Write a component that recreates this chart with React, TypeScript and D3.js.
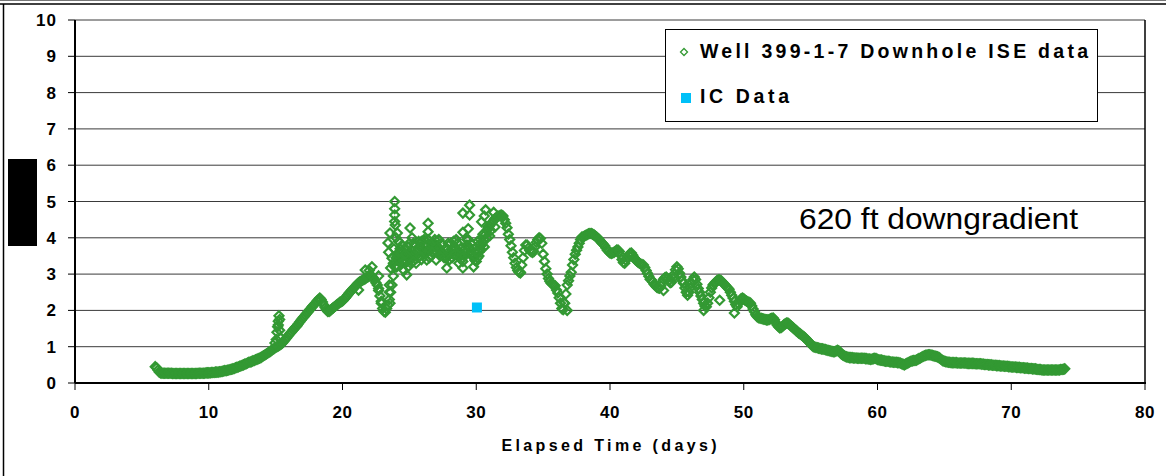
import React from 'react';
import * as d3 from 'd3';

// Downhole ISE logger record for well 399-1-7: one reading every 0.1 day from day 6.0
const iseStartDay = 6.0;
const iseIntervalDays = 0.1;
const iseValues: number[] = [
  // day 6 - 9
  0.45, 0.42, 0.36, 0.30, 0.28, 0.27, 0.27, 0.27, 0.27, 0.27,
  0.27, 0.27, 0.27, 0.26, 0.26, 0.26, 0.26, 0.26, 0.26, 0.26,
  0.26, 0.26, 0.26, 0.26, 0.26, 0.26, 0.26, 0.26, 0.26, 0.26,
  0.26, 0.26, 0.27, 0.27, 0.27, 0.27, 0.27, 0.27, 0.28, 0.28,
  // day 10 - 14
  0.28, 0.28, 0.29, 0.29, 0.29, 0.30, 0.30, 0.30, 0.31, 0.31,
  0.32, 0.33, 0.34, 0.34, 0.35, 0.36, 0.37, 0.38, 0.39, 0.40,
  0.42, 0.43, 0.44, 0.46, 0.47, 0.49, 0.50, 0.52, 0.53, 0.55,
  0.57, 0.58, 0.59, 0.61, 0.62, 0.64, 0.65, 0.67, 0.68, 0.70,
  0.73, 0.75, 0.77, 0.80, 0.82, 0.85, 0.87, 0.90, 0.93, 0.95,
  // day 15 - 19
  0.98, 1.00, 1.02, 1.04, 1.07, 1.10, 1.14, 1.19, 1.23, 1.28,
  1.33, 1.37, 1.41, 1.46, 1.50, 1.54, 1.58, 1.63, 1.68, 1.73,
  1.78, 1.82, 1.86, 1.91, 1.95, 2.00, 2.04, 2.09, 2.13, 2.17,
  2.21, 2.26, 2.30, 2.34, 2.30, 2.23, 2.15, 2.08, 2.02, 1.97,
  1.97, 2.00, 2.04, 2.07, 2.10, 2.13, 2.16, 2.19, 2.22, 2.24,
  // day 20 - 24
  2.26, 2.30, 2.34, 2.38, 2.43, 2.48, 2.52, 2.56, 2.60, 2.64,
  2.68, 2.72, 2.76, 2.79, 2.81, 2.83, 2.85, 2.87, 2.90, 2.92,
  2.95, 2.97, 2.94, 2.90, 2.84, 2.76, 2.70, 2.55, 2.40, 2.25,
  2.05, 1.97, 1.95, 2.05, 2.15, 2.30, 2.50, 2.70, 2.95, 3.20,
  3.45, 3.55, 3.45, 3.40, 3.45, 3.50, 3.40, 3.30, 3.35, 3.50,
  // day 25 - 29
  3.60, 3.55, 3.50, 3.50, 3.55, 3.60, 3.65, 3.70, 3.75, 3.72,
  3.70, 3.65, 3.60, 3.62, 3.65, 3.70, 3.75, 3.80, 3.85, 3.82,
  3.80, 3.75, 3.70, 3.65, 3.60, 3.55, 3.50, 3.46, 3.45, 3.50,
  3.55, 3.60, 3.68, 3.75, 3.75, 3.70, 3.62, 3.55, 3.50, 3.40,
  3.35, 3.50, 3.70, 3.80, 3.78, 3.72, 3.65, 3.55, 3.45, 3.38,
  // day 30 - 34
  3.35, 3.45, 3.60, 3.70, 3.80, 3.88, 3.95, 4.10, 4.20, 4.28,
  4.33, 4.38, 4.43, 4.48, 4.53, 4.56, 4.59, 4.60, 4.62, 4.63,
  4.60, 4.50, 4.40, 4.28, 4.10, 3.95, 3.78, 3.60, 3.45, 3.30,
  3.18, 3.10, 3.05, 3.05, 3.25, 3.45, 3.65, 3.80, 3.80, 3.72,
  3.65, 3.62, 3.60, 3.62, 3.75, 3.88, 3.95, 4.00, 3.98, 3.85,
  // day 35 - 39
  3.55, 3.35, 3.15, 3.00, 2.88, 2.80, 2.75, 2.72, 2.70, 2.68,
  2.56, 2.48, 2.35, 2.20, 2.05, 2.02, 2.20, 2.45, 2.70, 2.82,
  2.95, 3.05, 3.25, 3.40, 3.55, 3.66, 3.75, 3.85, 3.95, 4.02,
  4.03, 4.05, 4.07, 4.09, 4.11, 4.12, 4.12, 4.10, 4.08, 4.05,
  4.02, 3.98, 3.95, 3.90, 3.86, 3.82, 3.78, 3.72, 3.66, 3.62,
  // day 40 - 44
  3.58, 3.57, 3.58, 3.60, 3.63, 3.66, 3.66, 3.62, 3.52, 3.40,
  3.32, 3.30, 3.38, 3.45, 3.52, 3.57, 3.58, 3.52, 3.45, 3.40,
  3.36, 3.33, 3.30, 3.28, 3.26, 3.25, 3.18, 3.10, 3.02, 2.94,
  2.86, 2.84, 2.78, 2.72, 2.68, 2.64, 2.62, 2.61, 2.68, 2.78,
  2.86, 2.90, 2.92, 2.88, 2.82, 2.76, 2.78, 2.88, 3.00, 3.12,
  // day 45 - 49
  3.20, 3.15, 3.02, 2.92, 2.82, 2.75, 2.62, 2.50, 2.42, 2.50,
  2.62, 2.75, 2.85, 2.92, 2.85, 2.72, 2.60, 2.50, 2.40, 2.30,
  2.20, 2.12, 2.10, 2.20, 2.35, 2.50, 2.62, 2.70, 2.74, 2.78,
  2.82, 2.84, 2.84, 2.82, 2.78, 2.74, 2.70, 2.66, 2.62, 2.58,
  2.50, 2.42, 2.34, 2.25, 2.16, 2.10, 2.18, 2.26, 2.32, 2.34,
  // day 50 - 54
  2.32, 2.28, 2.26, 2.24, 2.22, 2.20, 2.12, 2.04, 1.96, 1.88,
  1.83, 1.80, 1.79, 1.78, 1.77, 1.76, 1.75, 1.74, 1.74, 1.75,
  1.77, 1.78, 1.79, 1.74, 1.66, 1.60, 1.55, 1.52, 1.53, 1.56,
  1.60, 1.63, 1.65, 1.65, 1.62, 1.58, 1.55, 1.52, 1.48, 1.45,
  1.42, 1.38, 1.36, 1.33, 1.30, 1.27, 1.24, 1.20, 1.16, 1.12,
  // day 55 - 59
  1.08, 1.04, 1.00, 0.99, 0.98, 0.97, 0.96, 0.95, 0.94, 0.94,
  0.93, 0.92, 0.91, 0.90, 0.89, 0.88, 0.87, 0.86, 0.86, 0.88,
  0.90, 0.89, 0.85, 0.80, 0.77, 0.75, 0.73, 0.72, 0.71, 0.70,
  0.70, 0.70, 0.69, 0.69, 0.69, 0.68, 0.68, 0.68, 0.68, 0.68,
  0.68, 0.67, 0.67, 0.66, 0.66, 0.65, 0.66, 0.67, 0.68, 0.67,
  // day 60 - 64
  0.65, 0.64, 0.63, 0.63, 0.62, 0.61, 0.60, 0.60, 0.60, 0.59,
  0.58, 0.58, 0.57, 0.57, 0.57, 0.56, 0.56, 0.55, 0.53, 0.52,
  0.50, 0.52, 0.54, 0.56, 0.58, 0.60, 0.61, 0.62, 0.62, 0.63,
  0.65, 0.67, 0.69, 0.71, 0.73, 0.75, 0.76, 0.77, 0.78, 0.78,
  0.77, 0.76, 0.75, 0.74, 0.73, 0.72, 0.70, 0.67, 0.64, 0.61,
  // day 65 - 69
  0.60, 0.59, 0.58, 0.57, 0.57, 0.56, 0.56, 0.56, 0.56, 0.56,
  0.55, 0.55, 0.55, 0.55, 0.55, 0.55, 0.55, 0.54, 0.54, 0.54,
  0.54, 0.54, 0.54, 0.53, 0.53, 0.53, 0.53, 0.53, 0.52, 0.52,
  0.51, 0.51, 0.51, 0.50, 0.50, 0.50, 0.49, 0.49, 0.49, 0.48,
  0.48, 0.48, 0.47, 0.47, 0.47, 0.46, 0.46, 0.46, 0.45, 0.45,
  // day 70 - 74
  0.44, 0.44, 0.44, 0.44, 0.43, 0.43, 0.43, 0.42, 0.42, 0.42,
  0.41, 0.41, 0.41, 0.40, 0.40, 0.40, 0.39, 0.39, 0.39, 0.38,
  0.37, 0.37, 0.37, 0.36, 0.36, 0.36, 0.36, 0.36, 0.36, 0.36,
  0.36, 0.36, 0.36, 0.36, 0.36, 0.36, 0.36, 0.37, 0.37, 0.38,
  0.39,
];

// Noisy ISE readings lying off the main record (elapsed days, value)
const iseScatter: [number, number][] = [
  [14.95, 1.1], [15.05, 1.2], [15.1, 1.4], [15.15, 1.55], [15.2, 1.7], [15.25, 1.85], [15.3, 1.75], [15.2, 1.6],
  [15.3, 1.45], [15.35, 1.25],
  [21.2, 2.56], [21.7, 3.11], [22.0, 3.1], [22.2, 3.2], [22.7, 2.95], [22.7, 2.6], [22.9, 2.2], [23.55, 2.2],
  [23.5, 2.5], [23.5, 2.7], [23.6, 3.17], [23.7, 3.44], [23.45, 3.6], [23.4, 3.86], [23.55, 4.13], [23.9, 4.45],
  [23.95, 4.35], [23.9, 4.63], [23.9, 4.8], [23.9, 5.0], [24.0, 4.0], [24.1, 4.13], [24.2, 3.9], [24.3, 3.7],
  [24.45, 3.8], [24.5, 3.33], [24.6, 3.1], [24.8, 2.98], [24.9, 3.2], [25.05, 4.27], [25.2, 4.0], [25.3, 3.85],
  [25.5, 3.3], [25.7, 3.9], [25.9, 3.4], [26.1, 3.95], [26.4, 4.4], [26.4, 4.17], [26.4, 3.95], [26.3, 3.39],
  [26.6, 3.5], [26.8, 3.6], [27.0, 3.39], [27.2, 3.95], [27.5, 3.8], [27.8, 3.17], [27.9, 3.85], [28.2, 3.45],
  [28.5, 3.95], [28.7, 3.3], [29.0, 4.68], [29.0, 4.15], [29.0, 3.17], [29.4, 4.25], [29.5, 4.9], [29.5, 4.63],
  [29.6, 3.55], [29.8, 3.2], [30.1, 3.9], [30.2, 3.5], [30.4, 4.44], [30.6, 4.6], [30.7, 4.77], [30.8, 4.0],
  [31.1, 4.2], [31.3, 4.7],
  [24.6, 3.7], [24.9, 3.75], [25.1, 3.3], [25.4, 3.8], [25.6, 3.45], [25.9, 3.9], [26.2, 3.55], [26.6, 3.85],
  [26.9, 3.95], [27.1, 3.6], [27.4, 3.85], [27.6, 3.45], [27.9, 3.6], [28.1, 3.85], [28.4, 3.55], [28.6, 3.85],
  [28.9, 3.55], [29.2, 3.6], [29.4, 3.95], [29.7, 3.55], [29.9, 3.5], [30.2, 3.8], [30.5, 4.1], [30.9, 4.3],
  [23.8, 3.3], [23.85, 3.7], [24.05, 3.2], [24.2, 3.6], [24.4, 3.6], [24.7, 3.55], [25.0, 3.85], [25.3, 3.35],
  [25.8, 3.5], [26.0, 3.9], [26.5, 3.45], [26.7, 3.6], [27.3, 3.5], [27.7, 3.7], [28.0, 3.4], [28.3, 3.9],
  [28.8, 3.7], [29.1, 3.5], [29.3, 3.95], [29.6, 3.85], [30.0, 3.6], [30.3, 3.95], [30.6, 3.75], [31.0, 4.05],
  [31.4, 4.3],
  [33.3, 3.03], [36.6, 2.2], [36.8, 2.0], [44.0, 2.55], [47.0, 2.0], [48.2, 2.28], [49.3, 1.93],
];

// Ion chromatography sample
const icData: [number, number][] = [[30.05, 2.08]];

const xTicks = [0, 10, 20, 30, 40, 50, 60, 70, 80];
const yTicks = [0, 1, 2, 3, 4, 5, 6, 7, 8, 9, 10];
const seriesNames = ['Well 399-1-7 Downhole ISE data', 'IC Data'];
const xTitle = 'Elapsed Time (days)';
const annotation = '620 ft downgradient';

const FONT = '"Liberation Sans", Arial, Helvetica, sans-serif';
const GREEN = '#339933';
const CYAN = '#00C0F8';

const diamond = (r: number) => `M0,${-r}L${r},0L0,${r}L${-r},0Z`;

export default function App() {
  const W = 1166;
  const H = 476;
  const x = d3.scaleLinear().domain([0, 80]).range([75, 1145]);
  const y = d3.scaleLinear().domain([0, 10]).range([383, 20]);
  const [x0, x1] = x.range();
  const [y0, y1] = y.range();

  const iseRecord: [number, number][] = iseValues.map((v, i) => [
    Math.round((iseStartDay + i * iseIntervalDays) * 100) / 100,
    v,
  ]);
  const allIse = [...iseRecord, ...iseScatter];

  return (
    <svg
      width={W}
      height={H}
      viewBox={`0 0 ${W} ${H}`}
      style={{ position: 'absolute', left: 0, top: 0, background: '#fff' }}
      fontFamily={FONT}
    >
      {/* frame */}
      <line x1={0} x2={W} y1={0.5} y2={0.5} stroke="#777" strokeWidth={1} />
      <line x1={0} x2={W} y1={4} y2={4} stroke="#000" strokeWidth={1.5} />
      <line x1={3.5} x2={3.5} y1={4} y2={H} stroke="#000" strokeWidth={1.5} />

      {/* black tab */}
      <rect x={8} y={159} width={29} height={87} fill="#000" />

      {/* gridlines */}
      {yTicks.filter((t) => t > 0).map((t) => (
        <line key={`g${t}`} x1={x0} x2={x1} y1={y(t)} y2={y(t)} stroke="#3a3a3a" strokeWidth={1} />
      ))}

      {/* y axis */}
      <line x1={x0} x2={x0} y1={y1} y2={y0} stroke="#000" strokeWidth={2} />
      {yTicks.map((t) => (
        <g key={`yt${t}`}>
          <line x1={x0 - 7} x2={x0} y1={y(t)} y2={y(t)} stroke="#000" strokeWidth={1} />
          <text x={57} y={y(t) + 6} textAnchor="end" fontSize={17} fontWeight="bold" letterSpacing={1}>
            {t}
          </text>
        </g>
      ))}

      {/* right border */}
      <line x1={x1} x2={x1} y1={y1} y2={y0} stroke="#000" strokeWidth={1.5} />

      {/* x axis */}
      <line x1={x0} x2={x1 + 1} y1={y0} y2={y0} stroke="#000" strokeWidth={2} />
      {xTicks.map((t) => (
        <g key={`xt${t}`}>
          <line x1={x(t)} x2={x(t)} y1={y0} y2={y0 + 7} stroke="#000" strokeWidth={1} />
          <text x={x(t)} y={418} textAnchor="middle" fontSize={17} fontWeight="bold" letterSpacing={0.5}>
            {t}
          </text>
        </g>
      ))}
      <text x={609} y={451} textAnchor="middle" fontSize={16} fontWeight="bold" textLength={215} lengthAdjust="spacing">
        {xTitle}
      </text>

      {/* ISE series */}
      <g fill="none" stroke={GREEN} strokeWidth={2.2}>
        {allIse.map(([d, v], i) => (
          <path key={`p${i}`} d={diamond(4.5)} transform={`translate(${x(d)},${y(v)})`} />
        ))}
      </g>

      {/* IC series */}
      {icData.map(([d, v], i) => (
        <rect key={`ic${i}`} x={x(d) - 5} y={y(v) - 5} width={10} height={10} fill={CYAN} />
      ))}

      {/* annotation */}
      <text x={799} y={229} fontSize={29} textLength={279} lengthAdjust="spacingAndGlyphs">
        {annotation}
      </text>

      {/* legend */}
      <rect x={665.5} y={29.5} width={432} height={92} fill="#fff" stroke="#000" strokeWidth={1} />
      <path d={diamond(3.5)} transform="translate(684,52)" fill="none" stroke={GREEN} strokeWidth={1.3} />
      <text x={700} y={58} fontSize={19.5} fontWeight="bold" textLength={388} lengthAdjust="spacing">
        {seriesNames[0]}
      </text>
      <rect x={681} y={93} width={10} height={10} fill={CYAN} />
      <text x={700} y={103} fontSize={19.5} fontWeight="bold" textLength={89} lengthAdjust="spacing">
        {seriesNames[1]}
      </text>
    </svg>
  );
}
